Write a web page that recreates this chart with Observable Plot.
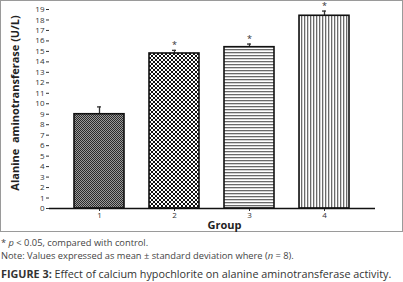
<!DOCTYPE html>
<html><head><meta charset="utf-8">
<script src="https://cdn.jsdelivr.net/npm/d3@7"></script>
<script src="https://cdn.jsdelivr.net/npm/@observablehq/plot@0.6"></script>
<style>
body{margin:0;background:#fff;font-family:"Open Sans",sans-serif;color:#333;}
#frame{position:absolute;left:0;top:0;width:401px;height:230px;border:1px solid #9a9a9a;}
#frame svg{display:block;}
.cap{position:absolute;left:1px;white-space:nowrap;font-size:9.3px;line-height:12px;color:#444;}
#c1{top:237px;}
#c2{top:250px;}
#c3{top:267px;font-size:10.8px;line-height:14px;color:#333;}
</style></head>
<body>
<div id="frame"></div>
<div class="cap" id="c1">* <i>p</i> &lt; 0.05, compared with control.</div>
<div class="cap" id="c2">Note: Values expressed as mean ± standard deviation where (<i>n</i> = 8).</div>
<div class="cap" id="c3"><b>FIGURE 3:</b> Effect of calcium hypochlorite on alanine aminotransferase activity.</div>
<script>
const groups = ["1", "2", "3", "4"];
const means = [9.0, 14.8, 15.4, 18.4];
const sds = [0.7, 0.3, 0.3, 0.45];
const marks = ["", "*", "*", "*"];
const yTicks = d3.range(0, 20);
const patterns = ["url(#p1)", "url(#p2)", "url(#p3)", "url(#p4)"];

const data = groups.map((g, i) => ({group: g, mean: means[i], top: means[i] + sds[i], mark: marks[i], pat: patterns[i]}));

const chart = Plot.plot({
  width: 401,
  height: 230,
  marginLeft: 48,
  marginRight: 27,
  marginTop: 8,
  marginBottom: 23,
  style: {fontFamily: "Open Sans, sans-serif", fontSize: "8px", color: "#333", background: "#fff", overflow: "visible"},
  x: {domain: groups, padding: 0.33, label: null, tickSize: 3, tickPadding: 1},
  y: {domain: [0, 19], ticks: yTicks, label: null, tickSize: 3, tickPadding: 2, tickFormat: d3.format("d")},
  color: {type: "identity"},
  marks: [
    Plot.ruleX(data, {x: "group", y1: "mean", y2: "top", stroke: "#333", strokeWidth: 1.3}),
    Plot.tickY(data, {x: "group", y: "top", stroke: "#333", strokeWidth: 1.3, inset: 27}),
    Plot.barY(data, {x: "group", y: "mean", fill: "pat", stroke: "#111", strokeWidth: 1.6}),
    Plot.text(data, {x: "group", y: "top", text: "mark", dy: -5, fontSize: 9, fill: "#333"}),
    Plot.axisY({ticks: yTicks, tickSize: 3, tickPadding: 2, label: null, fontSize: 8}),
    Plot.ruleX([0], {x: () => null, frameAnchor: "left", stroke: "#111", strokeWidth: 1.3}),
    Plot.ruleY([0], {stroke: "#111", strokeWidth: 1.3}),
    Plot.text(["Group"], {frameAnchor: "bottom", dy: 20, dx: 12, fontWeight: "bold", fontSize: 11, fill: "#222"}),
    Plot.text(["Alanine  aminotransferase (U/L)"], {frameAnchor: "left", textAnchor: "middle", dx: -34, dy: -6, rotate: -90, fontWeight: "bold", fontSize: 11, fill: "#222"})
  ]
});

const ns = "http://www.w3.org/2000/svg";
const defs = document.createElementNS(ns, "defs");
defs.innerHTML = `
<pattern id="p1" width="2" height="2" patternUnits="userSpaceOnUse">
  <rect width="2" height="2" fill="#9a9a9a"/>
  <rect width="1" height="1" fill="#2a2a2a"/>
  <rect x="1" y="1" width="1" height="1" fill="#2a2a2a"/>
</pattern>
<pattern id="p2" width="4" height="4" patternUnits="userSpaceOnUse">
  <rect width="4" height="4" fill="#fff"/>
  <rect width="2" height="2" fill="#111"/>
  <rect x="2" y="2" width="2" height="2" fill="#111"/>
</pattern>
<pattern id="p3" width="3" height="3" patternUnits="userSpaceOnUse">
  <rect width="3" height="3" fill="#fff"/>
  <rect width="3" height="1.3" fill="#6a6a6a"/>
</pattern>
<pattern id="p4" width="3" height="3" patternUnits="userSpaceOnUse">
  <rect width="3" height="3" fill="#fff"/>
  <rect width="1.3" height="3" fill="#6a6a6a"/>
</pattern>`;
chart.insertBefore(defs, chart.firstChild);
document.getElementById("frame").appendChild(chart);
</script>
</body></html>
